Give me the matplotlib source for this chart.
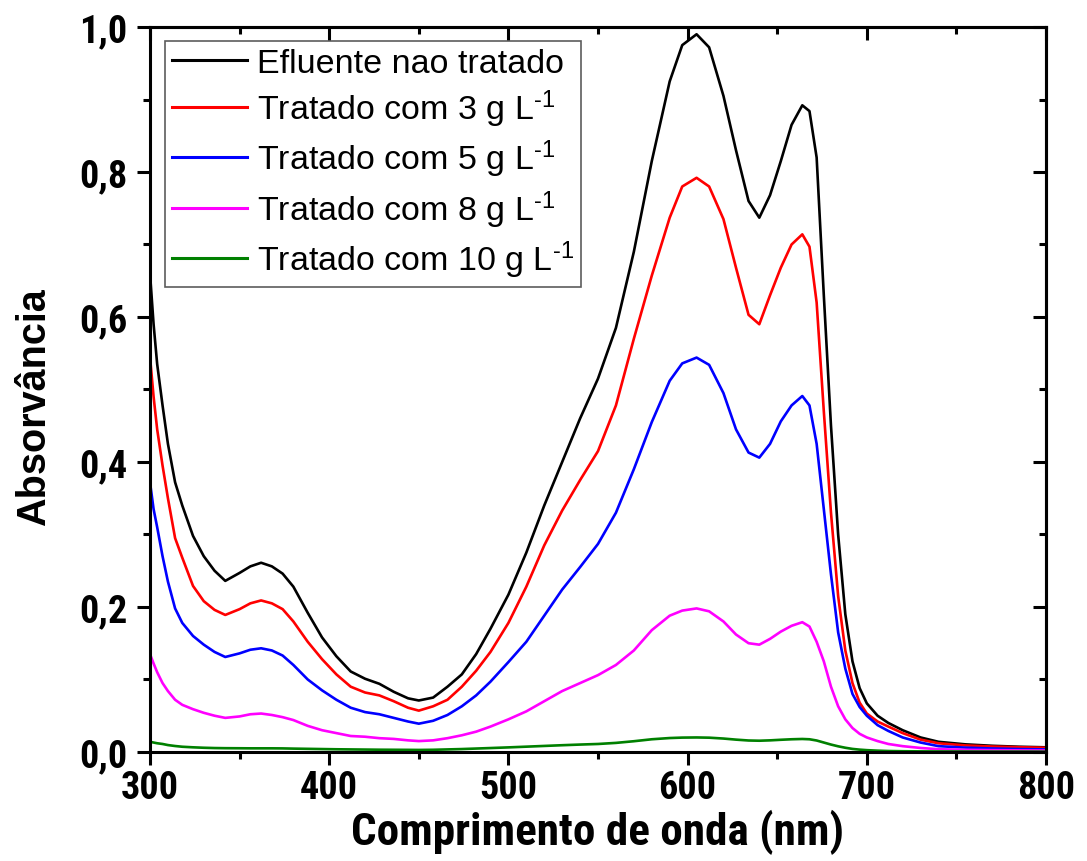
import matplotlib
matplotlib.use("Agg")
from matplotlib import pyplot as plt
from matplotlib.ticker import MultipleLocator, FuncFormatter

# wavelength grid (nm) and absorbance
wl = [300, 302, 304, 307, 310, 314, 318, 324, 330, 336, 342, 350, 356, 362, 368, 374,
      380, 388, 396, 404, 412, 420, 428, 436, 444, 450, 458, 466, 474, 482, 490, 500,
      510, 520, 530, 540, 550, 560, 570, 580, 590, 597, 605, 612, 620, 627, 634, 640,
      646, 652, 658, 664, 668, 672, 676, 680, 684, 688, 692, 696, 700, 706, 712, 720,
      730, 740, 755, 770, 785, 800]

efluente = [0.66, 0.59, 0.535, 0.478, 0.425, 0.372, 0.34, 0.298, 0.27, 0.25, 0.236, 0.247,
            0.256, 0.261, 0.256, 0.246, 0.228, 0.192, 0.158, 0.132, 0.111, 0.101, 0.094,
            0.083, 0.074, 0.071, 0.075, 0.09, 0.107, 0.135, 0.17, 0.217, 0.275, 0.34, 0.4,
            0.46, 0.515, 0.585, 0.69, 0.815, 0.925, 0.975, 0.99, 0.972, 0.905, 0.83, 0.76,
            0.737, 0.768, 0.815, 0.865, 0.892, 0.884, 0.82, 0.63, 0.45, 0.3, 0.19, 0.125,
            0.088, 0.067, 0.05, 0.04, 0.03, 0.02, 0.014, 0.0105, 0.0085, 0.0072, 0.0064]

trat3 = [0.545, 0.49, 0.445, 0.395, 0.35, 0.295, 0.268, 0.229, 0.208, 0.196, 0.189, 0.197,
         0.205, 0.209, 0.205, 0.197, 0.18, 0.152, 0.128, 0.107, 0.09, 0.082, 0.078, 0.07,
         0.061, 0.057, 0.063, 0.072, 0.09, 0.112, 0.138, 0.178, 0.228, 0.285, 0.333, 0.375,
         0.415, 0.478, 0.57, 0.657, 0.737, 0.78, 0.792, 0.78, 0.735, 0.668, 0.603, 0.59,
         0.63, 0.668, 0.7, 0.714, 0.697, 0.62, 0.47, 0.33, 0.215, 0.14, 0.095, 0.068, 0.053,
         0.042, 0.035, 0.026, 0.017, 0.012, 0.009, 0.0075, 0.0065, 0.0058]

trat5 = [0.372, 0.335, 0.31, 0.27, 0.235, 0.198, 0.178, 0.16, 0.148, 0.138, 0.131, 0.136,
         0.141, 0.143, 0.14, 0.133, 0.12, 0.1, 0.085, 0.072, 0.061, 0.055, 0.052, 0.047,
         0.042, 0.039, 0.043, 0.051, 0.063, 0.078, 0.097, 0.124, 0.152, 0.188, 0.224, 0.255,
         0.287, 0.33, 0.39, 0.455, 0.512, 0.536, 0.544, 0.534, 0.495, 0.445, 0.413, 0.406,
         0.425, 0.456, 0.478, 0.491, 0.478, 0.425, 0.335, 0.245, 0.165, 0.115, 0.08, 0.062,
         0.05, 0.037, 0.029, 0.02, 0.013, 0.008, 0.006, 0.0048, 0.004, 0.0035]

trat8 = [0.135, 0.122, 0.11, 0.095, 0.084, 0.072, 0.065, 0.059, 0.054, 0.05, 0.047, 0.049,
         0.052, 0.053, 0.051, 0.048, 0.044, 0.036, 0.03, 0.026, 0.022, 0.021, 0.019, 0.018,
         0.016, 0.015, 0.016, 0.019, 0.023, 0.028, 0.035, 0.045, 0.056, 0.07, 0.084, 0.095,
         0.106, 0.12, 0.14, 0.168, 0.188, 0.195, 0.198, 0.194, 0.18, 0.162, 0.15, 0.148,
         0.156, 0.166, 0.174, 0.179, 0.173, 0.152, 0.125, 0.09, 0.063, 0.045, 0.033, 0.025,
         0.02, 0.015, 0.011, 0.008, 0.0055, 0.0038, 0.003, 0.0025, 0.0022, 0.002]

trat10 = [0.014, 0.013, 0.012, 0.011, 0.0095, 0.0082, 0.0072, 0.0064, 0.0058, 0.0054, 0.0052,
          0.0051, 0.005, 0.005, 0.005, 0.0049, 0.0046, 0.0043, 0.004, 0.0037, 0.0035, 0.0033,
          0.0031, 0.003, 0.0029, 0.0028, 0.003, 0.0035, 0.004, 0.0047, 0.0054, 0.0063, 0.0073,
          0.0083, 0.0093, 0.0102, 0.011, 0.0125, 0.0148, 0.0175, 0.0192, 0.0198, 0.02, 0.0197,
          0.0185, 0.017, 0.0158, 0.0155, 0.016, 0.0168, 0.0175, 0.0179, 0.0175, 0.0158, 0.013,
          0.0102, 0.0078, 0.0058, 0.0042, 0.0032, 0.0025, 0.0018, 0.0013, 0.001, 0.0008,
          0.0007, 0.0006, 0.0005, 0.0005, 0.0004]

labels = ["Efluente nao tratado", "Tratado com 3 g L$^{\u20101}$", "Tratado com 5 g L$^{\u20101}$",
          "Tratado com 8 g L$^{\u20101}$", "Tratado com 10 g L$^{\u20101}$"]
colors = ["black", "#ff0000", "#0000ff", "#ff00ff", "#008000"]

plt.rcParams["mathtext.fontset"] = "custom"
plt.rcParams["mathtext.rm"] = "Liberation Sans"
plt.rcParams["mathtext.it"] = "Liberation Sans"

narrow = ["Roboto Condensed", "Liberation Sans"]

fig = plt.figure(figsize=(10.87, 8.62), dpi=100)
ax = fig.add_axes([0.138, 0.1265, 0.8243, 0.841])

for y, c, lab in zip([efluente, trat3, trat5, trat8, trat10], colors, labels):
    ax.plot(wl, y, color=c, lw=1.9, label=lab)

ax.set_xlim(300, 800)
ax.set_ylim(0, 1.0)
ax.xaxis.set_major_locator(MultipleLocator(100))
ax.xaxis.set_minor_locator(MultipleLocator(50))
ax.yaxis.set_major_locator(MultipleLocator(0.2))
ax.yaxis.set_minor_locator(MultipleLocator(0.1))
ax.yaxis.set_major_formatter(FuncFormatter(lambda v, p: f"{v:.1f}".replace(".", ",")))

for s in ax.spines.values():
    s.set_linewidth(2.2)
ax.tick_params(which="major", direction="out", length=9.5, width=2.2, pad=3)
ax.tick_params(axis="y", which="major", pad=7)
ax.tick_params(which="minor", direction="out", length=5, width=2.2)
for t in ax.get_xticklabels() + ax.get_yticklabels():
    t.set_family(narrow)
    t.set_fontweight("bold")
    t.set_fontsize(27.5)

# mirrored inner ticks on top and right
top = ax.secondary_xaxis("top")
top.xaxis.set_major_locator(MultipleLocator(100))
top.xaxis.set_minor_locator(MultipleLocator(50))
top.tick_params(which="major", direction="in", length=9.5, width=2.2, labeltop=False)
top.tick_params(which="minor", direction="in", length=5, width=2.2)
right = ax.secondary_yaxis("right")
right.yaxis.set_major_locator(MultipleLocator(0.2))
right.yaxis.set_minor_locator(MultipleLocator(0.1))
right.tick_params(which="major", direction="in", length=9.5, width=2.2, labelright=False)
right.tick_params(which="minor", direction="in", length=5, width=2.2)
for sec in (top, right):
    for s in sec.spines.values():
        s.set_linewidth(2.2)

ax.set_xlabel("Comprimento de onda (nm)", family=narrow, fontweight="bold", fontsize=32.5)
ax.xaxis.set_label_coords(0.5, -0.079)
ax.set_ylabel("Absorvância", family="Liberation Sans", fontweight="bold", fontsize=28.5)
ax.yaxis.set_label_coords(-0.108, 0.477)

leg = ax.legend(loc="upper left", bbox_to_anchor=(0.017, 0.981), borderaxespad=0,
                prop={"family": "Liberation Sans", "size": 24.5}, frameon=True, fancybox=False,
                handlelength=2.2, handletextpad=0.3, labelspacing=0.26, borderpad=0.2)
leg.get_frame().set_edgecolor("#333333")
leg.get_frame().set_linewidth(1.2)
for line in leg.get_lines():
    line.set_linewidth(2.2)

fig.savefig("out.png", dpi=100)
